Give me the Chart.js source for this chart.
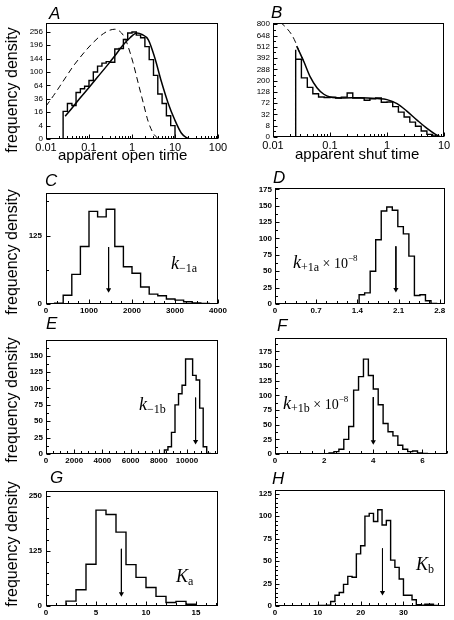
<!DOCTYPE html>
<html><head><meta charset="utf-8">
<script src="https://cdn.jsdelivr.net/npm/chart.js@4.4.1/dist/chart.umd.min.js"></script>
<style>
html,body{margin:0;padding:0;background:#fff;}
#wrap{position:relative;width:454px;height:620px;overflow:hidden;background:#fff;}
canvas{position:absolute;z-index:1;}
.t{position:absolute;white-space:nowrap;line-height:1;color:#000;z-index:2;}
.letter{font-family:"Liberation Sans",Arial,sans-serif;font-style:italic;font-size:17px;}
.axt{font-family:"Liberation Sans",Arial,sans-serif;font-size:15px;}
.fd{font-family:"Liberation Sans",Arial,sans-serif;font-size:16px;width:140px;height:16px;text-align:center;transform:rotate(-90deg);}
.k{font-family:"Liberation Serif","Times New Roman",serif;font-size:18px;}
.k i{font-style:italic;}
.k .sb{font-size:12px;position:relative;top:3px;}
.k .mx{font-size:14px;}
.k .sp{font-size:9px;position:relative;top:-7px;}
</style></head><body>
<div id="wrap">
  <div class="t letter" style="left:49px;top:5px">A</div>
  <div class="t letter" style="left:271px;top:4px">B</div>
  <div class="t letter" style="left:45px;top:172px">C</div>
  <div class="t letter" style="left:273px;top:169px">D</div>
  <div class="t letter" style="left:46px;top:315px">E</div>
  <div class="t letter" style="left:277px;top:317px">F</div>
  <div class="t letter" style="left:50px;top:469px">G</div>
  <div class="t letter" style="left:272px;top:470px">H</div>

  <div class="t fd" style="left:-58px;top:82px">frequency density</div>
  <div class="t fd" style="left:-58px;top:244px">frequency density</div>
  <div class="t fd" style="left:-58px;top:392px">frequency density</div>
  <div class="t fd" style="left:-58px;top:536px">frequency density</div>

  <div class="t axt" style="left:58px;top:147px">apparent open time</div>
  <div class="t axt" style="left:295px;top:146px">apparent shut time</div>

  <div class="t k" style="left:171px;top:254px"><i>k</i><span class="sb">−1a</span></div>
  <div class="t k" style="left:293px;top:253px"><i>k</i><span class="sb">+1a</span><span class="mx"> × 10</span><span class="sp">−8</span></div>
  <div class="t k" style="left:139px;top:395px"><i>k</i><span class="sb">−1b</span></div>
  <div class="t k" style="left:283px;top:394px"><i>k</i><span class="sb">+1b</span><span class="mx"> × 10</span><span class="sp">−8</span></div>
  <div class="t k" style="left:176px;top:567px"><i>K</i><span class="sb">a</span></div>
  <div class="t k" style="left:416px;top:555px"><i>K</i><span class="sb">b</span></div>
</div>
<script>
// ---------- DATA ----------
// A: apparent open time (log x, square-root y)
const openTicksX = [0.01, 0.1, 1, 10, 100];
const openTicksY = [0, 4, 16, 36, 64, 100, 144, 196, 256];
const openBinEdges = [0.025,0.0315,0.04,0.05,0.063,0.079,0.1,0.126,0.158,0.2,0.251,0.316,0.398,0.501,0.631,0.794,1.0,1.259,1.585,1.995,2.512,3.162,3.981,5.012,6.31,7.943,10.0,12.59];
const openCounts = [11,17,28,25,48,56,62,76,100,118,128,133,131,180,182,220,250,255,240,228,190,140,90,45,28,12,4];
const openFitX = [0.028,0.04,0.06,0.1,0.16,0.26,0.4,0.6,0.9,1.3,1.7,2.4,3.4,4.8,6.9,9.8,14,18,22];
const openFitY = [11.6,21,36,59,86,119,154,193,228,250,243,219,146,74,29,8.4,0.8,0.06,0];
const openDashX = [0.01,0.015,0.021,0.03,0.043,0.062,0.088,0.125,0.18,0.25,0.3,0.4,0.57,0.7,0.81,1.06,1.39,1.83,2.37,3.1,4.1];
const openDashY = [24,42,62,88,118,148,178,207,235,255,263,268,250,222,191,129,70,29,7,0.8,0];

// B: apparent shut time (log x, square-root y)
const shutTicksX = [0.01, 0.1, 1, 10];
const shutTicksY = [0, 8, 32, 72, 128, 200, 288, 392, 512, 648, 800];
const shutBinEdges = [0.025,0.0315,0.04,0.05,0.063,0.079,0.1,0.126,0.158,0.2,0.251,0.316,0.398,0.501,0.631,0.794,1.0,1.259,1.585,1.995,2.512,3.162,3.981,5.012,6.31,7.943,10.0];
const shutCounts = [480,380,220,155,118,101,98,100,96,100,122,96,95,85,92,96,76,77,58,39,25,14,7.2,2.3,0.45,0.06];
const shutFitX = [0.026,0.03,0.035,0.045,0.059,0.078,0.1,0.175,0.34,0.67,1.0,1.5,2.2,3.4,5.1,7.1,8.8];
const shutFitY = [520,437,354,227,153,115,101,96,97,93,88,70,43,17.5,4.4,0.45,0];
const shutDashX = [0.0135,0.0176,0.0216,0.0247,0.0283,0.035];
const shutDashY = [830,740,651,569,473,354];

// C: k-1a
const cTicksX = [0,1000,2000,3000,4000];
const cTicksY = [0,125];
const cEdges = [200,400,600,800,1000,1200,1400,1600,1800,2000,2200,2400,2600,2800,3000,3200,3400,3600,3800,4000];
const cCounts = [1.5,1.5,16,54,105,169,159,173,105,68,56,31,18,15,9,7,4,2,1];
const cArrow = [1456, 104, 26];

// D: k+1a x 1e-8
const dTicksX = [0,0.7,1.4,2.1,2.8];
const dTicksY = [0,25,50,75,100,125,150,175];
const dEdges = [1.43,1.524,1.618,1.712,1.806,1.9,1.994,2.088,2.182,2.276,2.37,2.464,2.558,2.652,2.746,2.84];
const dCounts = [7,14,17,50,98,142,148,143,118,107,73,13,14,5,1];
const dArrow = [2.055, 88, 22];

// E: k-1b
const eTicksX = [0,2000,4000,6000,8000,10000];
const eTicksY = [0,25,50,75,100,125,150];
const eEdges = [8400,8650,8900,9150,9400,9650,9900,10150,10400,10650,10900,11150,11400,11650,11900];
const eCounts = [3,6,11,33,75,92,105,145,145,120,113,70,11,1];
const eArrow = [10610, 86, 19];

// F: k+1b x 1e-8
const fTicksX = [0,2,4,6];
const fTicksY = [0,25,50,75,100,125,150,175];
const fEdges = [2.2,2.4,2.6,2.8,3.0,3.2,3.4,3.6,3.8,4.0,4.2,4.4,4.6,4.8,5.0,5.2,5.4,5.6,5.8,6.0,6.2,6.4,6.6];
const fCounts = [1,2,4,8,25,47,109,132,162,134,111,84,52,38,31,15,8,4,5,2,1,0.5];
const fArrow = [4.0, 97, 21];

// G: Ka
const gTicksX = [0,5,10,15];
const gTicksY = [0,125,250];
const gEdges = [2,3,4,5,6,7,8,9,10,11,12,13,14,15,16];
const gCounts = [1,11,37,95,218,208,168,94,65,42,22,8,10.5,4];
const gArrow = [7.54, 130, 28];

// H: Kb
const hTicksX = [0,10,20,30];
const hTicksY = [0,25,50,75,100,125];
const hEdges = [8,9,10,11,12,13,14,15,16,17,18,19,20,21,22,23,24,25,26,27,28,29,30,31,32,33,34,35,36,37,38,39];
const hCounts = [0.5,0,0,0.5,0.5,1,5,12,15,24,33,32,58,67,100,103,94,107,90,95,51,43,30,12,12,7,1.5,1,2,2,0.5];
const hArrow = [25.1, 64, 15];

// ---------- HELPERS ----------
const YW = 40, XH = 16, PT = 8, PR = 14;
const FAM = '"Liberation Sans", Arial, sans-serif';
Chart.defaults.font.family = FAM;
Chart.defaults.color = '#000';

function stepData(edges, counts, tf) {
  tf = tf || (v => v);
  const pts = [{x: edges[0], y: 0}];
  for (let i = 0; i < counts.length; i++) pts.push({x: edges[i], y: tf(counts[i])});
  pts.push({x: edges[edges.length - 1], y: 0});
  return pts;
}
function curve(xs, ys, tf) { tf = tf || (v => v); return xs.map((x, i) => ({x: x, y: tf(ys[i])})); }
function range(a, b, s, skip) {
  const out = [];
  for (let v = a; v <= b + 1e-9; v += s) { if (!skip.some(m => Math.abs(m - v) < 1e-9)) out.push(v); }
  return out;
}
function logMinors(lo, hi) {
  const out = [];
  for (let d = lo; d < hi - 1e-12; d *= 10) for (let m = 2; m <= 9; m++) out.push(m * d);
  return out;
}

const framePlugin = {
  id: 'frame',
  afterDraw(chart, args, o) {
    const ctx = chart.ctx, a = chart.chartArea, x = chart.scales.x, y = chart.scales.y;
    ctx.save();
    ctx.strokeStyle = '#000';
    ctx.lineWidth = 1;
    const L = Math.round(a.left) + 0.5, T = Math.round(a.top) + 0.5, R = Math.round(a.right) - 0.5, B = Math.round(a.bottom) - 0.5;
    ctx.strokeRect(L, T, R - L, B - T);
    ctx.beginPath();
    const tx = (v, len) => { const p = Math.round(x.getPixelForValue(v)) + 0.5; ctx.moveTo(p, B); ctx.lineTo(p, B - len); };
    const ty = (v, len) => { const p = Math.round(y.getPixelForValue(v)) + 0.5; ctx.moveTo(L, p); ctx.lineTo(L + len, p); };
    x.ticks.forEach(t => tx(t.value, 4));
    (o.minorX || []).forEach(v => tx(v, 2.5));
    y.ticks.forEach(t => ty(t.value, 4));
    (o.minorY || []).forEach(v => ty(v, 2.5));
    ctx.stroke();
    ctx.restore();
  }
};
Chart.register(framePlugin);

function xAxis(type, min, max, vals, labels, font, pad) {
  return {
    type: type, min: min, max: max, position: 'bottom',
    grid: {display: false, drawTicks: false}, border: {display: false},
    ticks: {autoSkip: false, maxRotation: 0, minRotation: 0, padding: pad, color: '#000', font: font,
            callback: (v, i) => String(labels[i])},
    afterBuildTicks: s => { s.ticks = vals.map(v => ({value: v})); },
    afterFit: s => { s.height = XH; }
  };
}
function yAxis(min, max, vals, labels, font, pad) {
  return {
    type: 'linear', min: min, max: max, position: 'left',
    grid: {display: false, drawTicks: false}, border: {display: false},
    ticks: {autoSkip: false, padding: pad, color: '#000', font: font,
            callback: (v, i) => String(labels[i])},
    afterBuildTicks: s => { s.ticks = vals.map(v => ({value: v})); },
    afterFit: s => { s.width = YW; }
  };
}
function histDS(data) {
  return {data: data, stepped: 'after', borderColor: '#000', borderWidth: 1.4, pointRadius: 0, fill: false};
}
function curveDS(data, dash) {
  return {data: data, borderColor: '#000', borderWidth: dash ? 1 : 1.5, borderDash: dash ? [6, 4] : [],
          pointRadius: 0, fill: false, cubicInterpolationMode: 'monotone'};
}
function arrowDS(arr) {
  return {data: [{x: arr[0], y: arr[1]}, {x: arr[0], y: arr[2]}], borderColor: '#000', borderWidth: 1,
          pointRadius: [0, 3], pointStyle: 'triangle', rotation: 180, pointBackgroundColor: '#000',
          pointBorderColor: '#000', pointBorderWidth: 0, fill: false};
}

const wrap = document.getElementById('wrap');
function addChart(box, datasets, xa, ya, minorX, minorY) {
  const c = document.createElement('canvas');
  const w = box.r - box.l + YW + PR, h = box.b - box.t + PT + XH;
  c.width = w; c.height = h;
  c.style.left = (box.l - YW) + 'px'; c.style.top = (box.t - PT) + 'px';
  c.style.width = w + 'px'; c.style.height = h + 'px';
  wrap.appendChild(c);
  return new Chart(c, {
    type: 'line',
    data: {datasets: datasets},
    options: {
      animation: false, responsive: false, devicePixelRatio: 1, events: [],
      layout: {padding: {top: PT, right: PR, left: 0, bottom: 0}},
      plugins: {legend: {display: false}, tooltip: {enabled: false}, frame: {minorX: minorX, minorY: minorY}},
      scales: {x: xa, y: ya}
    }
  });
}

const fBigX = {family: FAM, size: 11};
const fSmallY = {family: FAM, size: 8};
const fBold = {family: FAM, size: 8, weight: 'bold'};
const sq = Math.sqrt;

// ---------- PANELS ----------
// A
addChart({l: 46, t: 23, r: 218, b: 139},
  [histDS(stepData(openBinEdges, openCounts, sq)), curveDS(curve(openFitX, openFitY, sq), false), curveDS(curve(openDashX, openDashY, sq), true)],
  xAxis('logarithmic', 0.01, 100, openTicksX, openTicksX, fBigX, 2),
  yAxis(0, 17.3, openTicksY.map(sq), openTicksY, fSmallY, 3),
  logMinors(0.01, 100), []);

// B
addChart({l: 273, t: 23, r: 444, b: 137},
  [histDS(stepData(shutBinEdges, shutCounts, sq)), curveDS(curve(shutFitX, shutFitY, sq), false), curveDS(curve(shutDashX, shutDashY, sq), true)],
  xAxis('logarithmic', 0.01, 10, shutTicksX, shutTicksX, fBigX, 2),
  yAxis(0, 28.6, shutTicksY.map(sq), shutTicksY, fSmallY, 3),
  logMinors(0.01, 10), shutTicksY.slice(1).map((v, i) => (sq(v) + sq(shutTicksY[i])) / 2));

// C
addChart({l: 46, t: 192, r: 218, b: 304},
  [histDS(stepData(cEdges, cCounts)), arrowDS(cArrow)],
  xAxis('linear', 0, 4000, cTicksX, cTicksX, fBold, 2),
  yAxis(0, 203, cTicksY, cTicksY, fBold, 4),
  range(0, 4000, 250, cTicksX), [62.5, 187.5]);

// D
addChart({l: 275, t: 188, r: 445, b: 304},
  [histDS(stepData(dEdges, dCounts)), arrowDS(dArrow)],
  xAxis('linear', 0, 2.89, dTicksX, dTicksX, fBold, 2),
  yAxis(0, 177, dTicksY, dTicksY, fBold, 3),
  range(0, 2.8, 0.175, dTicksX), range(12.5, 175, 25, []));

// E
addChart({l: 46, t: 340, r: 218, b: 454},
  [histDS(stepData(eEdges, eCounts)), arrowDS(eArrow)],
  xAxis('linear', 0, 12200, eTicksX, eTicksX, fBold, 2),
  yAxis(0, 174, eTicksY, eTicksY, fBold, 3),
  range(0, 12000, 500, eTicksX), range(12.5, 162.5, 25, []));

// F
addChart({l: 275, t: 338, r: 447, b: 454},
  [histDS(stepData(fEdges, fCounts)), arrowDS(fArrow)],
  xAxis('linear', 0, 7, fTicksX, fTicksX, fBold, 2),
  yAxis(0, 198, fTicksY, fTicksY, fBold, 3),
  range(0, 7, 0.5, fTicksX), range(12.5, 187.5, 25, []));

// G
addChart({l: 46, t: 490, r: 218, b: 606},
  [histDS(stepData(gEdges, gCounts)), arrowDS(gArrow)],
  xAxis('linear', 0, 17.2, gTicksX, gTicksX, fBold, 2),
  yAxis(0, 262, gTicksY, gTicksY, fBold, 4),
  range(0, 17, 1, gTicksX), range(0, 250, 25, gTicksY));

// H
addChart({l: 275, t: 490, r: 445, b: 606},
  [histDS(stepData(hEdges, hCounts)), arrowDS(hArrow)],
  xAxis('linear', 0, 39.7, hTicksX, hTicksX, fBold, 2),
  yAxis(0, 129, hTicksY, hTicksY, fBold, 3),
  range(0, 38, 2, hTicksX), range(0, 125, 5, hTicksY));
</script>
</body></html>
